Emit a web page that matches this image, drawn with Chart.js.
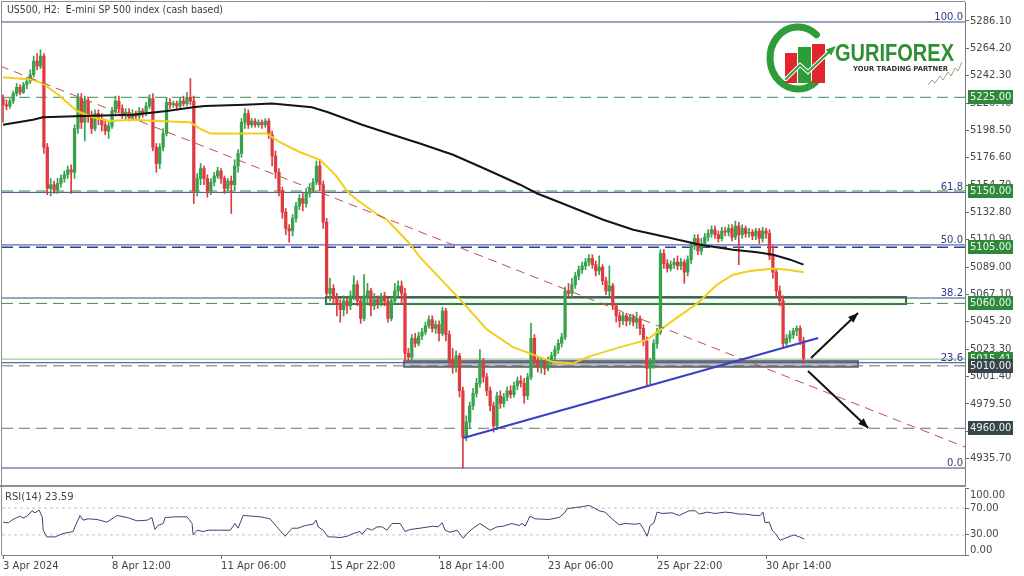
<!DOCTYPE html>
<html><head><meta charset="utf-8">
<script src="https://cdn.jsdelivr.net/npm/chart.js@4.4.1/dist/chart.umd.min.js"></script>
<style>
html,body{margin:0;padding:0;background:#fff;width:1024px;height:576px;overflow:hidden}
#wm{position:absolute;left:0;top:0;width:1024px;height:487px}
#wr{position:absolute;left:0;top:487px;width:1024px;height:89px}
</style></head><body>
<div id="wm"><canvas id="main"></canvas></div>
<div id="wr"><canvas id="rsi"></canvas></div>
<script>
// ---------- DATA ----------
const chartTitle = 'US500, H2:  E-mini SP 500 index (cash based)';
const rsiTitle = 'RSI(14) 23.59';
const xTickIdx = [0, 32, 64, 96, 128, 160, 192, 224];
const xTickLabels = ['3 Apr 2024','8 Apr 12:00','11 Apr 06:00','15 Apr 22:00','18 Apr 14:00','23 Apr 06:00','25 Apr 22:00','30 Apr 14:00'];
const priceTicks = [5286.10,5264.20,5242.30,5220.40,5198.50,5176.60,5154.70,5132.80,5110.90,5089.00,5067.10,5045.20,5023.30,5001.40,4979.50,4957.60,4935.70];
const rsiTicks = [100, 70, 30, 0];

const openP = [
5224,5219,5218,5222,5228,5233,5229,5235,5238,5243,5254,5250,
5258,5185,5152,5155,5151,5156,5160,5163,5167,5165,5200,5224,
5205,5222,5210,5200,5212,5208,5203,5198,5202,5214,5222,5216,
5211,5213,5209,5212,5210,5214,5212,5218,5224,5185,5172,5185,
5196,5221,5219,5220,5218,5222,5220,5225,5222,5150,5160,5168,
5160,5150,5157,5162,5166,5160,5152,5158,5155,5170,5180,5205,
5212,5203,5206,5203,5205,5203,5206,5195,5178,5165,5150,5133,
5120,5118,5128,5138,5144,5140,5148,5152,5157,5170,5155,5125,
5068,5072,5064,5060,5055,5062,5058,5066,5075,5062,5048,5066,
5070,5058,5063,5060,5066,5062,5048,5062,5070,5074,5068,5020,
5017,5032,5028,5034,5037,5042,5047,5040,5043,5036,5054,5035,
5015,5010,5018,4990,4953,4965,4978,4988,4996,5012,5001,4990,
4978,4962,4986,4980,4985,4990,4987,4994,4998,4996,4986,5001,
5032,5013,5010,5012,5008,5014,5018,5023,5028,5033,5070,5068,
5075,5082,5087,5090,5093,5096,5091,5086,5089,5078,5070,5074,
5058,5050,5046,5050,5046,5049,5045,5048,5040,5030,5008,5012,
5028,5037,5100,5092,5088,5091,5093,5090,5093,5085,5095,5106,
5112,5102,5108,5113,5116,5119,5115,5112,5118,5117,5120,5113,
5122,5115,5120,5116,5117,5114,5118,5112,5118,5116,5098,5085,
5070,5062,5028,5032,5035,5038,5040,5030];
const highP = [
5227,5223,5224,5230,5236,5235,5237,5241,5247,5258,5260,5263,
5260,5188,5160,5158,5160,5163,5166,5170,5171,5203,5228,5228,
5226,5225,5214,5215,5215,5212,5206,5205,5217,5226,5226,5219,
5216,5216,5215,5214,5217,5216,5221,5227,5228,5188,5188,5200,
5225,5224,5222,5222,5225,5226,5229,5240,5226,5164,5172,5170,
5163,5160,5165,5169,5168,5162,5160,5162,5175,5183,5208,5216,
5215,5208,5208,5207,5207,5208,5208,5198,5182,5168,5153,5136,
5123,5131,5141,5147,5148,5152,5156,5160,5174,5175,5158,5128,
5080,5075,5068,5063,5066,5065,5070,5082,5078,5065,5083,5076,
5072,5068,5066,5068,5069,5064,5065,5076,5078,5078,5072,5024,
5035,5036,5037,5040,5045,5050,5050,5046,5046,5057,5056,5038,
5024,5022,5020,4993,4970,4981,4992,5000,5023,5016,5004,4993,
4981,4989,4990,4988,4993,4994,4997,5001,5002,5000,5004,5044,
5035,5017,5016,5015,5017,5021,5026,5031,5036,5073,5076,5080,
5085,5090,5093,5096,5099,5099,5094,5098,5091,5081,5090,5076,
5060,5053,5053,5052,5051,5051,5053,5050,5043,5033,5016,5031,
5040,5103,5103,5095,5094,5096,5098,5096,5095,5098,5109,5115,
5115,5112,5116,5119,5122,5122,5118,5121,5121,5123,5123,5126,
5125,5123,5122,5120,5119,5120,5120,5121,5120,5119,5106,5088,
5074,5066,5035,5038,5040,5042,5042,5033];
const lowP = [
5205,5215,5216,5220,5226,5227,5228,5232,5236,5241,5247,5248,
5180,5147,5146,5148,5148,5153,5157,5160,5148,5160,5196,5200,
5190,5205,5196,5198,5203,5198,5195,5192,5200,5212,5213,5208,
5207,5206,5207,5207,5208,5209,5210,5216,5182,5165,5168,5182,
5194,5216,5217,5216,5216,5218,5218,5219,5140,5146,5155,5155,
5145,5147,5154,5160,5156,5148,5150,5132,5150,5165,5177,5200,
5200,5201,5201,5201,5200,5201,5192,5170,5160,5146,5128,5115,
5109,5114,5125,5135,5134,5137,5145,5149,5155,5150,5120,5065,
5062,5060,5050,5045,5050,5052,5055,5063,5058,5044,5046,5060,
5050,5055,5056,5058,5058,5045,5046,5060,5066,5060,5015,5014,
5015,5025,5026,5031,5035,5040,5037,5036,5030,5034,5030,5010,
5004,5005,4985,4928,4950,4960,4975,4985,4993,4997,4986,4974,
4957,4959,4976,4977,4982,4984,4985,4991,4993,4980,4983,4999,
5010,5005,5004,5003,5006,5011,5015,5020,5025,5031,5064,5065,
5072,5079,5084,5087,5090,5088,5082,5083,5075,5067,5066,5055,
5045,5041,5043,5042,5043,5042,5040,5035,5026,4994,4995,5008,
5024,5035,5088,5085,5086,5088,5087,5087,5076,5082,5092,5103,
5099,5099,5105,5110,5113,5112,5109,5110,5114,5114,5110,5111,
5091,5112,5113,5113,5111,5111,5108,5109,5112,5095,5080,5065,
5058,5025,5025,5029,5032,5034,5027,5012];
const closeP = [
5219,5218,5222,5228,5233,5229,5235,5238,5243,5254,5250,5258,
5185,5152,5155,5151,5156,5160,5163,5167,5165,5200,5224,5205,
5222,5210,5200,5212,5208,5203,5198,5202,5214,5222,5216,5211,
5213,5209,5212,5210,5214,5212,5218,5224,5185,5172,5185,5196,
5221,5219,5220,5218,5222,5220,5225,5222,5150,5160,5168,5160,
5150,5157,5162,5166,5160,5152,5158,5155,5170,5180,5205,5212,
5203,5206,5203,5205,5203,5206,5195,5178,5165,5150,5133,5120,
5118,5128,5138,5144,5140,5148,5152,5157,5170,5155,5125,5068,
5072,5064,5060,5055,5062,5058,5066,5075,5062,5048,5066,5070,
5058,5063,5060,5066,5062,5048,5062,5070,5074,5068,5020,5017,
5032,5028,5034,5037,5042,5047,5040,5043,5036,5054,5035,5015,
5010,5018,4990,4953,4965,4978,4988,4996,5012,5001,4990,4978,
4962,4986,4980,4985,4990,4987,4994,4998,4996,4986,5001,5032,
5013,5010,5012,5008,5014,5018,5023,5028,5033,5070,5068,5075,
5082,5087,5090,5093,5096,5091,5086,5089,5078,5070,5074,5058,
5050,5046,5050,5046,5049,5045,5048,5040,5030,5008,5012,5028,
5037,5100,5092,5088,5091,5093,5090,5093,5085,5095,5106,5112,
5102,5108,5113,5116,5119,5115,5112,5118,5117,5120,5113,5122,
5115,5120,5116,5117,5114,5118,5112,5118,5116,5098,5085,5070,
5062,5028,5032,5035,5038,5040,5030,5016];

// moving averages (knots)
const maFastIdx = [0,8.8,11.7,16.7,21.7,26.4,31.4,38.2,45.2,54.9,57.8,60.8,77.5,80.7,87.2,93.1,97.5,101.3,103.9,110,112.7,119,122.4,134.2,142.1,149.7,155.6,161.5,167.4,171.5,181.2,189.1,195,203.8,209.6,214.3,219.3,226.1,230.2,235];
const maFastVal = [5241,5239,5236,5226,5214,5209,5206,5207,5206,5205,5200,5196,5196,5190,5181,5175,5163,5149,5143,5131,5127,5109,5097,5063,5039,5025,5019,5013,5012,5017,5025,5031,5043,5060,5075,5083,5086,5088,5087,5085];
const maSlowIdx = [0,8.8,11.7,23.5,38.2,48.1,55.8,59.3,71,79,90.7,95.4,105.4,118.9,122.4,132.1,142.1,151.8,156.8,161.5,176.2,185,195,204.6,214.3,221.4,226.1,231.1,235];
const maSlowVal = [5203,5207,5209,5210,5211,5214,5217,5218,5219,5220,5217,5213,5203,5191,5188,5179,5167,5155,5148,5143,5127,5119,5113,5107,5103,5101,5099,5095,5091];

// RSI(14)
const rsiIdx = [0,1.5,2.9,5,5.9,7.3,8.5,9.4,10.6,11.5,11.8,12.9,15.3,17.6,20.6,21.1,22.6,23.5,25,27.6,30.5,33.5,36.4,39.3,42.3,43.7,44.6,45.5,47,47.6,51.1,54,55.5,55.8,57,58.7,60.2,62.8,66.7,68.1,69,70.5,75.5,78.4,80.4,82.8,84.9,86.6,88.7,91,91.9,92.5,94,95.4,96.9,98.9,101,102.8,104.8,105.4,106.9,108.3,109.8,111.3,112.7,114.2,116.6,118,119.5,122.4,126.2,127.7,128.9,129.8,131.2,133.3,135.1,136.2,138,140,143,145,146.8,149.4,151.5,152.4,153.3,154.7,156.2,160.3,163.2,164.7,165.6,168,170,172,172.9,175,176.7,178.8,180.9,182.6,185.6,187,188.2,189.1,190,191.1,192,193.5,196.4,198.5,201.4,203.2,204.4,206.7,209,212,214,216.1,217.9,220.8,222.3,223.1,223.7,224.9,225.8,226.7,228.1,229.6,232.2,233.8,235.2];
const rsiVal = [49,48,53,58,55,59,66,63,67,57,37,27,27,32,35,42,59,52,54,53,49,59,56,51,52,56,38,44,47,56,57,57,47,30,37,35,37,37,37,47,40,59,57,54,42,28,40,40,44,46,52,42,37,27,27,26,28,32,35,31,40,37,42,42,37,47,47,35,38,40,43,42,48,37,34,37,25,32,40,47,37,42,43,47,44,47,43,58,54,53,56,62,69,71,72,74,72,66,64,54,45,47,46,47,37,28,44,48,64,62,63,59,66,66,61,64,62,64,63,61,61,59,59,64,48,49,37,32,22,25,30,27,24];

// drawn objects (bar index / price)
const fibLabels = ['100.0','61.8','50.0','38.2','23.6','0.0'];
const fibPrices = [5285.3,5148.9,5106.8,5064.3,5012.5,4928.2];
const greenLevels = [5225, 5150, 5060];
const blueLevels = [5105];
const greyLevels = [5010, 4960];
const thinLevels = [5015.41];
const tagPrices = [5225, 5150, 5105, 5060, 5015.41, 5010, 4960];
const tagKinds = ['g','g','g','g','g','d','d'];
const resistIdx = [-0.9, 282.4], resistVal = [5250.1, 4945.0];
const supportIdx = [135.1, 239.3], supportVal = [4952.2, 5032.3];
const arrowUpIdx = [237.2, 251.0], arrowUpVal = [5016.3, 5052.3];
const arrowDnIdx = [236.3, 254.0], arrowDnVal = [5005.9, 4960.3];
const boxIdx0 = [94.8, 117.7], boxIdx1 = [265.1, 251.0];
const boxHi = [5065.1, 5013.9], boxLo = [5059.5, 5009.1];

// ---------- CONFIG ----------
const X_MIN = -0.3, X_MAX = 282.4, Y_MIN = 4915.4, Y_MAX = 5301.3;
const UP = '#35a24c', DOWN = '#de3a40';
const FONT = '"DejaVu Sans", sans-serif';

const candleCol = closeP.map((c,i) => c >= openP[i] ? UP : DOWN);
const wickData = closeP.map((c,i) => ({x:i, y:[lowP[i], highP[i]]}));
const bodyData = closeP.map((c,i) => ({x:i, y:[openP[i], c]}));
const pts = (xs, ys) => xs.map((v,i) => ({x:v, y:ys[i]}));

function lineDs(data, color, width, dash, order){
  return {type:'line', data, borderColor:color, borderWidth:width, borderDash:dash||[], pointRadius:0, tension:0, fill:false, order};
}
const hl = v => [{x:X_MIN,y:v},{x:X_MAX,y:v}];

const datasets = [];
fibPrices.forEach(v => datasets.push(lineDs(hl(v), '#3a4580', 1, [], 40)));
greenLevels.forEach(v => datasets.push(lineDs(hl(v), '#3f8c48', 1, [11,6], 39)));
blueLevels.forEach(v => datasets.push(lineDs(hl(v), '#2a3fa0', 1.5, [11,6], 39)));
greyLevels.forEach(v => datasets.push(lineDs(hl(v), '#707070', 1, [11,6], 39)));
thinLevels.forEach(v => datasets.push(lineDs(hl(v), '#86b686', 1, [], 39)));
datasets.push({type:'bar', data:wickData, backgroundColor:candleCol, barThickness:1, grouped:false, order:21, minBarLength:1});
datasets.push({type:'bar', data:bodyData, backgroundColor:candleCol, barThickness:2.6, grouped:false, order:20, minBarLength:1});
datasets.push(lineDs(pts(maFastIdx, maFastVal), '#f2cf1d', 2, [], 11));
datasets.push(lineDs(pts(maSlowIdx, maSlowVal), '#141414', 2, [], 10));
datasets.push(lineDs(pts(resistIdx, resistVal), '#bd5050', 1, [9,6], 5));
datasets.push(lineDs(pts(supportIdx, supportVal), '#3b3fc6', 2, [], 4));
datasets.push(lineDs(pts(arrowUpIdx, arrowUpVal), '#111', 2, [], 1));
datasets.push(lineDs(pts(arrowDnIdx, arrowDnVal), '#111', 2, [], 1));

function arrowHead(ctx, x0, y0, x1, y1){
  const a = Math.atan2(y1-y0, x1-x0), L = 10, W = 4;
  ctx.beginPath();
  ctx.moveTo(x1, y1);
  ctx.lineTo(x1 - L*Math.cos(a) + W*Math.sin(a), y1 - L*Math.sin(a) - W*Math.cos(a));
  ctx.lineTo(x1 - L*Math.cos(a) - W*Math.sin(a), y1 - L*Math.sin(a) + W*Math.cos(a));
  ctx.closePath(); ctx.fill();
}

function drawLogo(ctx){
  ctx.save();
  ctx.lineCap = 'round';
  ctx.strokeStyle = '#2f9c3a'; ctx.lineWidth = 7;
  ctx.beginPath(); ctx.ellipse(798, 58, 28, 31, 0, -0.85, 0.9, true); ctx.stroke();
  ctx.fillStyle = '#e2262c'; ctx.fillRect(785, 53, 12, 30);
  ctx.fillStyle = '#2f9c3a'; ctx.fillRect(798, 47, 13, 36);
  ctx.fillStyle = '#e2262c'; ctx.fillRect(812, 44, 13, 39);
  ctx.strokeStyle = '#fff'; ctx.lineWidth = 4;
  ctx.beginPath(); ctx.moveTo(786, 79); ctx.lineTo(800, 65); ctx.lineTo(808, 72); ctx.lineTo(829, 52); ctx.stroke();
  ctx.strokeStyle = '#2f9c3a'; ctx.lineWidth = 2;
  ctx.beginPath(); ctx.moveTo(786, 79); ctx.lineTo(800, 65); ctx.lineTo(808, 72); ctx.lineTo(829, 52); ctx.stroke();
  ctx.fillStyle = '#2f9c3a'; arrowHead(ctx, 820, 60, 836, 46);
  ctx.fillStyle = '#2f8f34'; ctx.font = 'bold 23px "Liberation Sans", sans-serif';
  ctx.textAlign = 'left'; ctx.textBaseline = 'alphabetic';
  ctx.fillText('GURIFOREX', 835, 61, 119);
  ctx.fillStyle = '#333'; ctx.font = 'bold 7px ' + FONT;
  ctx.fillText('YOUR TRADING PARTNER', 853, 71, 95);
  ctx.strokeStyle = '#9aa274'; ctx.lineWidth = 1; ctx.lineCap = 'butt';
  ctx.beginPath(); ctx.moveTo(928,85); ctx.lineTo(932,80); ctx.lineTo(935,83); ctx.lineTo(940,76); ctx.lineTo(943,80);
  ctx.lineTo(948,72); ctx.lineTo(951,76); ctx.lineTo(955,68); ctx.lineTo(958,71); ctx.lineTo(962,62); ctx.stroke();
  ctx.restore();
}

const mainDeco = {
  id:'mainDeco',
  beforeDatasetsDraw(chart){
    const {ctx, scales:{x, y}} = chart;
    const fills = ['rgba(235,245,235,0.5)', '#b9bdc1'], lines = ['#2f7a35', '#4d555b'], lw = [2, 1.5];
    ctx.save();
    for (let k = 0; k < boxIdx0.length; k++){
      const x0 = x.getPixelForValue(boxIdx0[k]), x1 = x.getPixelForValue(boxIdx1[k]);
      const y0 = y.getPixelForValue(boxHi[k]), y1 = y.getPixelForValue(boxLo[k]);
      ctx.fillStyle = fills[k]; ctx.fillRect(x0, y0, x1-x0, y1-y0);
      ctx.strokeStyle = lines[k]; ctx.lineWidth = lw[k]; ctx.strokeRect(x0, y0, x1-x0, y1-y0);
    }
    ctx.restore();
  },
  afterDraw(chart){
    const {ctx, chartArea:a, scales:{x, y}} = chart;
    ctx.save();
    ctx.strokeStyle = '#8c8c8c'; ctx.lineWidth = 1;
    ctx.beginPath(); ctx.moveTo(1.5, 1.5); ctx.lineTo(a.right, 1.5); ctx.moveTo(1.5, 1.5); ctx.lineTo(1.5, 487); ctx.stroke();
    ctx.fillStyle = '#8f8f8f'; ctx.fillRect(0, a.bottom + 1, a.right + 1, 2);
    ctx.fillStyle = '#3a3a3a'; ctx.font = '10px ' + FONT; ctx.textAlign = 'left'; ctx.textBaseline = 'middle';
    ctx.fillText(chartTitle, 7, 10, 216);
    ctx.fillStyle = '#2c3a86'; ctx.textAlign = 'right'; ctx.textBaseline = 'alphabetic';
    fibPrices.forEach((v,k) => ctx.fillText(fibLabels[k], a.right - 2, y.getPixelForValue(v) - 2));
    ctx.textAlign = 'left'; ctx.textBaseline = 'middle';
    tagPrices.forEach((v,k) => {
      const py = Math.round(y.getPixelForValue(v));
      ctx.fillStyle = tagKinds[k] === 'g' ? '#2d8a38' : '#36464a';
      ctx.fillRect(a.right + 3, py - 7, 45, 14);
      ctx.fillStyle = '#f4f4f4';
      ctx.fillText(v.toFixed(2), a.right + 5, py + 0.5);
    });
    ctx.fillStyle = '#111';
    arrowHead(ctx, x.getPixelForValue(arrowUpIdx[0]), y.getPixelForValue(arrowUpVal[0]), x.getPixelForValue(arrowUpIdx[1]), y.getPixelForValue(arrowUpVal[1]));
    arrowHead(ctx, x.getPixelForValue(arrowDnIdx[0]), y.getPixelForValue(arrowDnVal[0]), x.getPixelForValue(arrowDnIdx[1]), y.getPixelForValue(arrowDnVal[1]));
    ctx.restore();
    drawLogo(ctx);
  }
};

new Chart(document.getElementById('main'), {
  type:'bar',
  data:{datasets},
  options:{
    animation:false, responsive:true, maintainAspectRatio:false, events:[],
    layout:{padding:{left:2, right:0, top:2, bottom:3}},
    plugins:{legend:{display:false}, tooltip:{enabled:false}},
    scales:{
      x:{type:'linear', min:X_MIN, max:X_MAX, display:false, offset:false},
      y:{type:'linear', position:'right', min:Y_MIN, max:Y_MAX, beginAtZero:false,
        afterBuildTicks(s){ s.ticks = priceTicks.map(v => ({value:v})); },
        afterFit(s){ s.width = 59; s.paddingTop = 0; s.paddingBottom = 0; },
        ticks:{autoSkip:false, padding:1, color:'#474747', font:{family:'DejaVu Sans', size:10}, callback:v => Number(v).toFixed(2)},
        grid:{drawOnChartArea:false, drawTicks:true, tickLength:4, color:'#6a6a6a'},
        border:{display:true, color:'#7d7d7d'}
      }
    }
  },
  plugins:[mainDeco]
});

const rsiDeco = {
  id:'rsiDeco',
  afterDraw(chart){
    const {ctx, chartArea:a, scales:{y}} = chart;
    ctx.save();
    ctx.strokeStyle = '#8c8c8c'; ctx.lineWidth = 1;
    ctx.beginPath(); ctx.moveTo(1.5, 0); ctx.lineTo(1.5, a.bottom); ctx.stroke();
    ctx.fillStyle = '#444'; ctx.font = '10px ' + FONT; ctx.textAlign = 'left'; ctx.textBaseline = 'middle';
    ctx.fillText(rsiTitle, 5, 10);
    ctx.fillStyle = '#474747';
    rsiTicks.forEach(v => {
      let py = y.getPixelForValue(v);
      py = Math.min(Math.max(py, a.top + 7), a.bottom - 5);
      ctx.fillText(v.toFixed(2), a.right + 5, py);
    });
    ctx.restore();
  }
};

new Chart(document.getElementById('rsi'), {
  type:'line',
  data:{datasets:[
    lineDs(pts(rsiIdx, rsiVal), '#3d4272', 1, [], 1),
    lineDs(hl(70), '#c4c4c4', 1, [3,3], 2),
    lineDs(hl(30), '#c4c4c4', 1, [3,3], 2)
  ]},
  options:{
    animation:false, responsive:true, maintainAspectRatio:false, events:[],
    layout:{padding:{left:2, right:0, top:1, bottom:0}},
    plugins:{legend:{display:false}, tooltip:{enabled:false}},
    scales:{
      x:{type:'linear', min:X_MIN, max:X_MAX, position:'bottom',
        afterBuildTicks(s){ s.ticks = xTickIdx.map(v => ({value:v})); },
        afterFit(s){ s.height = 21; s.paddingLeft = 0; s.paddingRight = 0; },
        ticks:{autoSkip:false, maxRotation:0, align:'start', padding:1, color:'#444', font:{family:'DejaVu Sans', size:10}, callback:(v,i) => xTickLabels[i]},
        grid:{drawOnChartArea:false, drawTicks:true, tickLength:4, color:'#6a6a6a'},
        border:{display:true, color:'#7d7d7d'}
      },
      y:{type:'linear', position:'right', min:0, max:100,
        afterBuildTicks(s){ s.ticks = rsiTicks.map(v => ({value:v})); },
        afterFit(s){ s.width = 59; s.paddingTop = 0; s.paddingBottom = 0; },
        ticks:{display:false},
        grid:{drawOnChartArea:false, drawTicks:true, tickLength:4, color:'#6a6a6a'},
        border:{display:true, color:'#7d7d7d'}
      }
    }
  },
  plugins:[rsiDeco]
});
</script>
</body></html>
